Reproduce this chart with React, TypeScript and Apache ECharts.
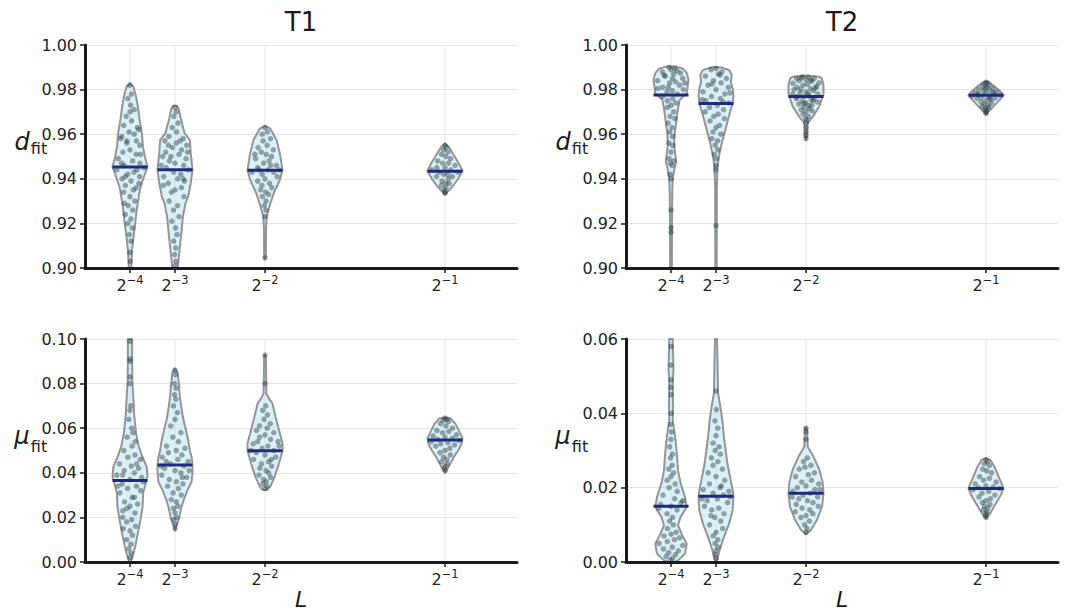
import React, { useEffect, useRef } from "react";
import * as echarts from "echarts";

const FONT = "DejaVu Sans";

// x positions (L) and their labels
const L_VALUES = [0.0625, 0.125, 0.25, 0.5];
const L_EXPONENTS = ["−4", "−3", "−2", "−1"];

// ---------- T1, d_fit ----------
const T1_D_MEDIANS = [0.9453, 0.9441, 0.9438, 0.9434];
const T1_D_PROF_A = [[0.9828,0],[0.9813,0.2],[0.9768,0.35],[0.9723,0.45],[0.9664,0.55],[0.9604,0.68],[0.9544,0.74],[0.9499,0.85],[0.9454,1.0],[0.9409,0.8],[0.9364,0.6],[0.9319,0.5],[0.926,0.38],[0.92,0.3],[0.914,0.2],[0.908,0.12],[0.902,0.08],[0.895,0.07]];
const T1_D_PROF_B = [[0.9728,0],[0.9727,0.12],[0.9711,0.22],[0.9664,0.35],[0.9604,0.55],[0.9574,0.85],[0.9514,0.9],[0.9441,1.0],[0.938,0.9],[0.932,0.75],[0.929,0.6],[0.923,0.45],[0.917,0.38],[0.911,0.3],[0.905,0.22],[0.9,0.15],[0.895,0.12]];
const T1_D_PROF_C = [[0.9637,0],[0.9625,0.3],[0.9574,0.66],[0.9514,0.85],[0.944,1.0],[0.9395,0.85],[0.9336,0.5],[0.9275,0.25],[0.923,0.1],[0.918,0.06],[0.905,0.05],[0.9043,0]];
const T1_D_PROF_D = [[0.9558,0],[0.9545,0.2],[0.95,0.55],[0.9465,0.82],[0.9435,1.0],[0.94,0.75],[0.937,0.48],[0.935,0.25],[0.9332,0]];
const T1_D_PTS_A = [[-0.2,0.982],[0.3,0.978],[-0.4,0.976],[0.1,0.973],[0.6,0.971],[-0.5,0.968],[0.2,0.966],[-0.7,0.964],[0.8,0.963],[-0.1,0.961],[0.4,0.96],[-0.8,0.959],[0.6,0.957],[-0.3,0.956],[0.9,0.955],[0.0,0.953],[-0.6,0.952],[0.5,0.951],[-0.9,0.949],[0.2,0.948],[0.7,0.947],[-0.4,0.946],[0.95,0.945],[-0.95,0.944],[0.3,0.943],[-0.2,0.942],[0.8,0.941],[-0.7,0.94],[0.1,0.939],[0.9,0.938],[-0.5,0.937],[0.4,0.935],[-0.8,0.934],[0.0,0.932],[0.7,0.93],[-0.3,0.928],[0.5,0.926],[-0.9,0.924],[0.2,0.922],[-0.5,0.92],[0.6,0.918],[-0.2,0.915],[0.4,0.912],[-0.1,0.907],[0.2,0.903],[0.9,0.962],[-0.9,0.958],[0.85,0.951],[-0.6,0.947],[0.5,0.944],[-0.4,0.941],[0.7,0.936],[-0.85,0.929],[0.0,0.97],[-0.3,0.957]];
const T1_D_PTS_B = [[0.0,0.972],[0.3,0.97],[-0.3,0.968],[0.5,0.965],[-0.4,0.963],[0.2,0.961],[-0.6,0.959],[0.7,0.958],[-0.8,0.957],[0.1,0.956],[0.9,0.955],[-0.2,0.954],[0.5,0.953],[-0.7,0.952],[0.3,0.951],[-0.9,0.95],[0.8,0.949],[-0.4,0.948],[0.0,0.947],[0.6,0.946],[-0.6,0.945],[0.9,0.944],[-0.1,0.943],[0.4,0.942],[-0.8,0.941],[0.2,0.94],[0.7,0.939],[-0.5,0.938],[-0.9,0.937],[0.5,0.936],[0.0,0.935],[-0.3,0.934],[0.8,0.932],[-0.6,0.93],[0.3,0.928],[-0.2,0.926],[0.6,0.923],[-0.5,0.921],[0.1,0.918],[0.4,0.915],[-0.3,0.912],[0.2,0.909],[-0.1,0.906],[0.3,0.903],[0.0,0.901],[0.95,0.952],[-0.95,0.946],[0.4,0.957],[-0.5,0.955],[0.6,0.94],[-0.3,0.95]];
const T1_D_PTS_C = [[0.0,0.963],[0.4,0.961],[-0.4,0.96],[0.6,0.958],[-0.2,0.957],[0.2,0.955],[-0.6,0.954],[0.7,0.953],[-0.3,0.952],[0.1,0.951],[0.5,0.95],[-0.7,0.949],[0.3,0.948],[-0.1,0.947],[0.8,0.946],[-0.5,0.945],[0.2,0.944],[-0.9,0.943],[0.6,0.943],[-0.2,0.942],[0.9,0.941],[0.0,0.94],[-0.6,0.939],[0.4,0.938],[-0.3,0.937],[0.7,0.936],[-0.5,0.935],[0.1,0.934],[0.5,0.933],[-0.4,0.932],[0.2,0.93],[-0.2,0.928],[0.3,0.926],[0.0,0.923],[0.0,0.9045],[0.95,0.944],[-0.8,0.951],[0.4,0.946],[-0.4,0.944]];
const T1_D_PTS_D = [[0.0,0.955],[0.3,0.954],[-0.3,0.953],[0.5,0.952],[-0.5,0.951],[0.1,0.95],[0.6,0.949],[-0.7,0.948],[0.3,0.947],[-0.2,0.947],[0.8,0.946],[-0.6,0.945],[0.0,0.945],[0.4,0.944],[-0.9,0.944],[0.9,0.943],[-0.4,0.943],[0.2,0.942],[-0.1,0.942],[0.6,0.941],[-0.7,0.941],[0.3,0.94],[-0.3,0.939],[0.1,0.938],[0.5,0.938],[-0.5,0.937],[0.2,0.936],[-0.2,0.935],[0.0,0.934],[0.1,0.9335]];

// ---------- T2, d_fit ----------
const T2_D_MEDIANS = [0.9776, 0.9738, 0.9769, 0.9775];
const T2_D_PROF_A = [[0.9905,0],[0.9903,0.3],[0.9893,0.7],[0.9874,0.9],[0.9844,1.0],[0.9814,0.95],[0.9784,0.9],[0.9754,0.5],[0.9715,0.4],[0.9655,0.3],[0.9596,0.2],[0.9551,0.18],[0.9506,0.25],[0.9476,0.3],[0.9447,0.2],[0.9402,0.1],[0.9327,0.07],[0.9207,0.06],[0.895,0.05]];
const T2_D_PROF_B = [[0.9901,0],[0.9899,0.3],[0.9888,0.75],[0.9865,0.9],[0.9835,0.85],[0.9805,0.95],[0.9775,1.0],[0.9738,0.95],[0.9685,0.75],[0.9625,0.55],[0.9566,0.35],[0.9506,0.18],[0.9447,0.08],[0.9357,0.05],[0.895,0.04]];
const T2_D_PROF_C = [[0.9862,0],[0.9861,0.3],[0.9858,0.75],[0.985,0.9],[0.982,1.0],[0.978,1.0],[0.9723,0.75],[0.9678,0.38],[0.9656,0.15],[0.964,0.08],[0.959,0.06],[0.958,0]];
const T2_D_PROF_D = [[0.9836,0],[0.9832,0.2],[0.981,0.55],[0.979,0.85],[0.9775,1.0],[0.976,0.85],[0.9735,0.55],[0.971,0.25],[0.9692,0]];
const T2_D_PTS_A = [[-0.3,0.99],[0.4,0.9895],[0.0,0.989],[-0.7,0.988],[0.7,0.9875],[0.2,0.987],[-0.4,0.986],[0.8,0.985],[-0.9,0.984],[0.3,0.9835],[-0.1,0.983],[0.6,0.982],[-0.6,0.981],[0.9,0.98],[0.1,0.9795],[-0.3,0.979],[0.5,0.978],[-0.8,0.977],[0.2,0.976],[-0.5,0.975],[0.7,0.974],[0.0,0.973],[-0.6,0.972],[0.5,0.97],[-0.2,0.968],[0.8,0.967],[-0.7,0.965],[0.3,0.963],[-0.4,0.961],[0.6,0.959],[-0.8,0.956],[0.7,0.955],[0.0,0.952],[-0.5,0.949],[0.6,0.948],[-0.2,0.947],[0.3,0.946],[-0.4,0.942],[0.0,0.94],[0.0,0.926],[0.0,0.918],[0.1,0.916],[0.5,0.9885],[-0.5,0.9865],[0.1,0.985],[-0.2,0.981],[0.95,0.983],[-0.95,0.9805]];
const T2_D_PTS_B = [[0.0,0.9895],[-0.5,0.989],[0.5,0.988],[0.2,0.987],[-0.8,0.986],[0.8,0.985],[-0.2,0.984],[0.4,0.983],[-0.6,0.982],[0.9,0.981],[0.0,0.98],[-0.9,0.979],[0.6,0.978],[-0.3,0.977],[0.3,0.976],[-0.7,0.975],[0.9,0.974],[0.1,0.973],[-0.5,0.972],[0.6,0.971],[-0.9,0.97],[0.2,0.969],[-0.2,0.968],[0.8,0.967],[-0.6,0.966],[0.4,0.964],[0.0,0.963],[-0.4,0.961],[0.7,0.96],[-0.7,0.958],[0.3,0.957],[-0.2,0.955],[0.5,0.953],[-0.6,0.951],[0.2,0.949],[0.0,0.946],[-0.3,0.944],[0.0,0.919],[0.3,0.9865],[-0.3,0.9825],[0.95,0.9785],[-0.95,0.9755],[0.5,0.9745]];
const T2_D_PTS_C = [[-0.3,0.9858],[0.2,0.9856],[0.6,0.985],[-0.7,0.985],[0.0,0.9845],[-0.5,0.984],[0.4,0.9838],[0.9,0.983],[-0.9,0.9828],[0.1,0.9825],[-0.2,0.982],[0.7,0.9815],[-0.6,0.981],[0.3,0.9805],[-0.8,0.98],[0.5,0.9795],[0.0,0.979],[-0.4,0.9785],[0.8,0.978],[-0.9,0.9778],[0.2,0.9772],[-0.1,0.977],[0.6,0.9765],[-0.7,0.976],[0.4,0.9755],[-0.3,0.975],[0.9,0.9745],[0.0,0.974],[-0.6,0.9735],[0.5,0.973],[-0.2,0.9722],[0.3,0.9715],[-0.5,0.971],[0.7,0.9705],[0.0,0.97],[-0.4,0.969],[0.4,0.968],[-0.1,0.967],[0.2,0.966],[0.0,0.965],[0.0,0.963],[0.0,0.961],[0.0,0.9595],[0.0,0.958],[-0.4,0.9852],[0.35,0.9842],[0.65,0.9808],[-0.35,0.9802],[0.15,0.9782],[-0.65,0.9768],[0.55,0.9752],[-0.15,0.9738],[0.25,0.9728]];
const T2_D_PTS_D = [[0.0,0.9833],[0.3,0.983],[-0.3,0.9825],[0.5,0.982],[-0.5,0.9815],[0.1,0.981],[0.7,0.9805],[-0.7,0.98],[0.3,0.9797],[-0.2,0.9793],[0.85,0.979],[-0.85,0.9786],[0.0,0.9782],[0.5,0.978],[-0.5,0.9777],[0.95,0.9775],[-0.95,0.9772],[0.2,0.977],[-0.3,0.9766],[0.7,0.9762],[-0.7,0.976],[0.4,0.9755],[0.0,0.975],[-0.5,0.9745],[0.6,0.974],[-0.2,0.9735],[0.3,0.973],[-0.6,0.9725],[0.5,0.972],[0.0,0.9715],[-0.3,0.971],[0.2,0.9705],[0.0,0.9698],[0.1,0.9693],[0.6,0.9788],[-0.6,0.9779],[0.25,0.9762],[-0.1,0.9805]];

// ---------- T1, mu_fit ----------
const T1_MU_MEDIANS = [0.0365, 0.0435, 0.0499, 0.0547];
const T1_MU_PROF_A = [[0.115,0.08],[0.1,0.12],[0.0816,0.13],[0.0726,0.2],[0.0652,0.25],[0.0577,0.35],[0.0518,0.5],[0.0473,0.7],[0.0428,0.95],[0.0383,1.0],[0.0309,0.75],[0.0249,0.72],[0.019,0.6],[0.013,0.45],[0.007,0.3],[0.0025,0.15],[0.0003,0.05],[0.0,0]];
const T1_MU_PROF_B = [[0.0866,0],[0.085,0.15],[0.08,0.22],[0.075,0.27],[0.07,0.35],[0.065,0.45],[0.06,0.6],[0.055,0.75],[0.05,0.85],[0.047,0.95],[0.0435,1.0],[0.04,1.0],[0.036,0.95],[0.032,0.7],[0.028,0.5],[0.024,0.35],[0.02,0.25],[0.017,0.12],[0.0145,0]];
const T1_MU_PROF_C = [[0.0928,0],[0.0925,0.05],[0.0756,0.08],[0.073,0.25],[0.0712,0.42],[0.0652,0.6],[0.0592,0.8],[0.0532,1.0],[0.0499,1.0],[0.0443,0.8],[0.0383,0.55],[0.0338,0.3],[0.0325,0.15],[0.0322,0]];
const T1_MU_PROF_D = [[0.0648,0],[0.0645,0.3],[0.062,0.6],[0.058,0.85],[0.0555,1.0],[0.053,0.95],[0.05,0.75],[0.047,0.5],[0.044,0.3],[0.0415,0.12],[0.0401,0]];
const T1_MU_PTS_A = [[0.0,0.099],[0.0,0.091],[0.1,0.09],[0.0,0.083],[-0.1,0.08],[0.2,0.07],[0.0,0.068],[-0.3,0.064],[0.4,0.06],[0.6,0.058],[-0.5,0.056],[0.8,0.054],[0.3,0.052],[-0.7,0.05],[0.5,0.048],[-0.2,0.047],[0.9,0.046],[-0.8,0.044],[0.1,0.043],[0.6,0.042],[-0.4,0.041],[0.3,0.04],[-0.9,0.039],[0.8,0.038],[0.0,0.037],[-0.6,0.035],[0.5,0.034],[-0.2,0.033],[0.9,0.032],[-0.9,0.031],[0.2,0.029],[-0.5,0.027],[0.7,0.026],[0.0,0.025],[-0.3,0.024],[0.5,0.022],[-0.8,0.02],[0.2,0.019],[-0.4,0.018],[0.7,0.016],[-0.9,0.015],[0.0,0.014],[0.4,0.012],[-0.6,0.01],[0.2,0.008],[-0.3,0.006],[0.3,0.004],[0.0,0.002],[0.5,0.044],[-0.5,0.039],[0.95,0.036],[-0.95,0.034],[0.4,0.029],[-0.7,0.023]];
const T1_MU_PTS_B = [[0.0,0.086],[0.2,0.084],[-0.2,0.08],[0.3,0.078],[-0.1,0.075],[0.2,0.073],[-0.3,0.07],[0.4,0.067],[0.0,0.064],[-0.5,0.061],[0.6,0.058],[-0.2,0.056],[0.3,0.054],[-0.7,0.052],[0.8,0.051],[0.1,0.05],[-0.5,0.049],[0.5,0.048],[-0.9,0.047],[0.2,0.046],[0.9,0.045],[-0.3,0.044],[0.6,0.043],[-0.7,0.042],[0.0,0.041],[0.4,0.04],[-0.9,0.039],[0.8,0.038],[-0.4,0.037],[0.1,0.036],[0.6,0.035],[-0.6,0.034],[0.3,0.033],[-0.2,0.031],[0.7,0.03],[-0.5,0.028],[0.2,0.027],[0.5,0.025],[-0.3,0.024],[0.0,0.022],[0.4,0.02],[-0.4,0.019],[0.2,0.017],[0.0,0.015],[0.95,0.041],[-0.95,0.043],[0.5,0.038],[-0.6,0.045]];
const T1_MU_PTS_C = [[0.0,0.0928],[0.0,0.08],[0.1,0.07],[-0.3,0.068],[0.3,0.066],[-0.1,0.064],[0.5,0.062],[-0.5,0.061],[0.2,0.06],[-0.7,0.059],[0.7,0.058],[0.0,0.057],[-0.4,0.056],[0.4,0.055],[0.9,0.054],[-0.8,0.053],[0.2,0.052],[-0.2,0.051],[0.6,0.05],[-0.6,0.049],[0.0,0.048],[0.8,0.047],[-0.9,0.046],[0.3,0.045],[-0.3,0.044],[0.6,0.043],[-0.5,0.042],[0.1,0.041],[0.4,0.04],[-0.7,0.039],[0.7,0.038],[-0.2,0.037],[0.2,0.036],[-0.4,0.035],[0.4,0.034],[0.0,0.033],[0.95,0.052],[-0.95,0.05],[0.5,0.046],[-0.5,0.054]];
const T1_MU_PTS_D = [[0.0,0.0645],[0.3,0.064],[-0.3,0.0635],[0.5,0.063],[-0.5,0.062],[0.1,0.061],[0.7,0.06],[-0.7,0.059],[0.3,0.0585],[-0.2,0.058],[0.85,0.057],[-0.85,0.0565],[0.0,0.056],[0.5,0.0555],[-0.5,0.055],[0.95,0.0545],[-0.95,0.054],[0.2,0.0535],[-0.3,0.053],[0.7,0.0525],[-0.7,0.052],[0.4,0.051],[0.0,0.05],[-0.5,0.049],[0.6,0.048],[-0.2,0.047],[0.3,0.046],[-0.6,0.045],[0.5,0.044],[0.0,0.043],[-0.3,0.042],[0.2,0.041]];

// ---------- T2, mu_fit ----------
const T2_MU_MEDIANS = [0.015, 0.0177, 0.0185, 0.0198];
const T2_MU_PROF_A = [[0.065,0.08],[0.06,0.1],[0.052,0.14],[0.048,0.1],[0.042,0.12],[0.0382,0.1],[0.0355,0.18],[0.0319,0.28],[0.0283,0.35],[0.0247,0.4],[0.0211,0.55],[0.0175,0.8],[0.0148,0.9],[0.0121,0.55],[0.0099,0.4],[0.0076,0.6],[0.0049,0.9],[0.0022,0.8],[0.0004,0.4],[-0.001,0.2]];
const T2_MU_PROF_B = [[0.065,0.05],[0.06,0.06],[0.0454,0.12],[0.0409,0.28],[0.0373,0.38],[0.0337,0.45],[0.0301,0.55],[0.0265,0.65],[0.0229,0.8],[0.0193,0.95],[0.0175,1.0],[0.0139,0.95],[0.0103,0.75],[0.0067,0.45],[0.0031,0.2],[0.0004,0.06],[0.0,0]];
const T2_MU_PROF_C = [[0.0362,0],[0.036,0.06],[0.031,0.1],[0.0298,0.25],[0.0286,0.4],[0.025,0.75],[0.0215,0.95],[0.0185,1.0],[0.0149,0.92],[0.0113,0.62],[0.0086,0.28],[0.0075,0]];
const T2_MU_PROF_D = [[0.0279,0],[0.0275,0.25],[0.0255,0.5],[0.023,0.72],[0.0205,0.95],[0.0198,1.0],[0.018,0.85],[0.016,0.6],[0.014,0.35],[0.0125,0.15],[0.0118,0]];
const T2_MU_PTS_A = [[0.0,0.058],[0.0,0.053],[0.1,0.049],[-0.1,0.047],[0.0,0.045],[0.1,0.04],[-0.2,0.037],[0.2,0.035],[0.0,0.033],[-0.3,0.031],[0.3,0.029],[-0.1,0.028],[0.2,0.026],[-0.4,0.025],[0.4,0.024],[0.0,0.023],[-0.5,0.022],[0.5,0.021],[-0.2,0.02],[0.6,0.019],[-0.7,0.018],[0.3,0.017],[0.8,0.016],[-0.8,0.0155],[0.0,0.015],[0.5,0.014],[-0.4,0.013],[0.2,0.012],[-0.2,0.011],[0.4,0.01],[-0.5,0.009],[0.6,0.008],[0.0,0.0075],[-0.7,0.007],[0.8,0.0065],[0.3,0.006],[-0.3,0.0055],[-0.9,0.005],[0.9,0.0045],[0.1,0.004],[-0.6,0.0035],[0.6,0.003],[-0.2,0.0025],[0.4,0.002],[-0.5,0.0015],[0.2,0.001],[-0.1,0.0005],[0.95,0.0165],[-0.95,0.0145]];
const T2_MU_PTS_B = [[0.0,0.046],[0.1,0.041],[-0.2,0.038],[0.3,0.036],[0.0,0.034],[-0.4,0.032],[0.4,0.031],[-0.1,0.03],[0.5,0.029],[-0.5,0.028],[0.2,0.027],[-0.3,0.026],[0.6,0.025],[-0.7,0.024],[0.0,0.023],[0.7,0.022],[-0.5,0.021],[0.3,0.02],[-0.9,0.0195],[0.9,0.019],[-0.2,0.0185],[0.5,0.018],[0.1,0.017],[-0.6,0.0165],[0.8,0.016],[-0.8,0.015],[0.2,0.0145],[-0.3,0.014],[0.6,0.013],[-0.1,0.012],[0.4,0.011],[-0.6,0.01],[0.7,0.009],[0.0,0.008],[-0.4,0.007],[0.3,0.006],[-0.2,0.005],[0.5,0.004],[0.0,0.003],[-0.3,0.002],[0.1,0.001],[0.95,0.0175],[-0.95,0.017],[0.4,0.0205],[-0.4,0.0125]];
const T2_MU_PTS_C = [[0.0,0.036],[0.0,0.035],[0.0,0.033],[0.2,0.028],[-0.3,0.027],[0.5,0.026],[-0.1,0.0255],[-0.6,0.025],[0.7,0.024],[0.2,0.0235],[-0.8,0.023],[0.4,0.022],[-0.3,0.0215],[0.9,0.021],[0.0,0.0205],[-0.6,0.02],[0.6,0.0195],[-0.9,0.019],[0.3,0.0185],[-0.2,0.018],[0.8,0.0175],[-0.5,0.017],[0.1,0.0165],[0.5,0.016],[-0.7,0.0155],[0.9,0.015],[-0.3,0.0145],[0.3,0.014],[-0.9,0.0135],[0.6,0.013],[0.0,0.0125],[-0.5,0.012],[0.4,0.011],[-0.2,0.01],[0.2,0.009],[0.0,0.008],[0.95,0.0195],[-0.95,0.0175]];
const T2_MU_PTS_D = [[0.0,0.0275],[0.3,0.027],[-0.3,0.0265],[0.5,0.026],[-0.4,0.025],[0.1,0.0245],[0.6,0.024],[-0.6,0.023],[0.3,0.0225],[-0.2,0.022],[0.8,0.0215],[-0.8,0.021],[0.0,0.0205],[0.5,0.0202],[-0.5,0.02],[0.9,0.0198],[-0.9,0.0195],[0.2,0.019],[-0.3,0.0185],[0.7,0.018],[-0.6,0.0175],[0.4,0.017],[0.0,0.0165],[-0.4,0.016],[0.5,0.0155],[-0.2,0.015],[0.3,0.0145],[-0.5,0.014],[0.2,0.0135],[0.0,0.013],[-0.2,0.0125],[0.1,0.012]];

// y ranges per panel
const Y_RANGES = [[0.9, 1.0], [0.9, 1.0], [0, 0.1], [0, 0.06]];

// layout (pixels)
const GRID_LEFT = [85, 626, 85, 626];
const GRID_TOP = [45, 45, 339, 339];
const GRID_W = 432;
const GRID_H = 223;
const X_MAX = 0.6;
const HALF_PX = 17.5;

const PANELS = [
  { range: Y_RANGES[0], medians: T1_D_MEDIANS, profiles: [T1_D_PROF_A, T1_D_PROF_B, T1_D_PROF_C, T1_D_PROF_D], points: [T1_D_PTS_A, T1_D_PTS_B, T1_D_PTS_C, T1_D_PTS_D] },
  { range: Y_RANGES[1], medians: T2_D_MEDIANS, profiles: [T2_D_PROF_A, T2_D_PROF_B, T2_D_PROF_C, T2_D_PROF_D], points: [T2_D_PTS_A, T2_D_PTS_B, T2_D_PTS_C, T2_D_PTS_D] },
  { range: Y_RANGES[2], medians: T1_MU_MEDIANS, profiles: [T1_MU_PROF_A, T1_MU_PROF_B, T1_MU_PROF_C, T1_MU_PROF_D], points: [T1_MU_PTS_A, T1_MU_PTS_B, T1_MU_PTS_C, T1_MU_PTS_D] },
  { range: Y_RANGES[3], medians: T2_MU_MEDIANS, profiles: [T2_MU_PROF_A, T2_MU_PROF_B, T2_MU_PROF_C, T2_MU_PROF_D], points: [T2_MU_PTS_A, T2_MU_PTS_B, T2_MU_PTS_C, T2_MU_PTS_D] },
];

function widthAt(p: number[][], y: number): number {
  if (y >= p[0][0]) return p[0][1];
  for (let k = 1; k < p.length; k++) {
    const [y0, w0] = p[k - 1];
    const [y1, w1] = p[k];
    if (y <= y0 && y >= y1) {
      const t = y0 === y1 ? 0 : (y0 - y) / (y0 - y1);
      return w0 + (w1 - w0) * t;
    }
  }
  return p[p.length - 1][1];
}

function buildOption() {
  const grid: any[] = [];
  const xAxis: any[] = [];
  const yAxis: any[] = [];
  const series: any[] = [];
  const axisColor = "#1a1a1a";
  const xHalfUnits = (HALF_PX / GRID_W) * X_MAX;

  PANELS.forEach((panel, pi) => {
    grid.push({ left: GRID_LEFT[pi], top: GRID_TOP[pi], width: GRID_W, height: GRID_H });
    xAxis.push({
      type: "value",
      gridIndex: pi,
      min: 0,
      max: X_MAX,
      z: 10,
      axisLine: { show: true, onZero: false, lineStyle: { color: axisColor, width: 3 } },
      axisTick: { show: true, customValues: L_VALUES, length: 5, lineStyle: { color: axisColor, width: 1.5 } },
      axisLabel: {
        customValues: L_VALUES,
        margin: 6,
        formatter: (v: number) => {
          const idx = L_VALUES.findIndex((q) => Math.abs(q - v) < 1e-9);
          return idx >= 0 ? `{b|2}{s|${L_EXPONENTS[idx]}}` : "";
        },
        rich: {
          b: { fontSize: 16, color: "#222", fontFamily: FONT },
          s: { fontSize: 11.5, color: "#222", fontFamily: FONT, padding: [0, 0, 10, 0] },
        },
      },
      splitLine: { show: false },
    });
    const [ymin, ymax] = panel.range;
    yAxis.push({
      type: "value",
      gridIndex: pi,
      min: ymin,
      max: ymax,
      interval: 0.02,
      axisLine: { show: true, lineStyle: { color: axisColor, width: 3 } },
      axisTick: { show: true, length: 5, lineStyle: { color: axisColor, width: 1.5 } },
      axisLabel: { formatter: (v: number) => v.toFixed(2), fontSize: 16, color: "#222", fontFamily: FONT, margin: 8 },
      splitLine: { show: true, lineStyle: { color: "#e4e4e4", width: 1 } },
    });

    const clamp = (y: number) => Math.min(Math.max(y, ymin), ymax);

    // violin bodies + vertical grid lines
    series.push({
      type: "custom",
      xAxisIndex: pi,
      yAxisIndex: pi,
      z: 2,
      silent: true,
      data: L_VALUES.map((x, i) => [x, panel.medians[i], i]),
      renderItem: (params: any, api: any) => {
        const i = api.value(2) as number;
        const x = L_VALUES[i];
        const prof = panel.profiles[i];
        const cx = api.coord([x, ymin])[0];
        const left: number[][] = [];
        const right: number[][] = [];
        prof.forEach(([y, w]) => {
          const py = api.coord([x, clamp(y)])[1];
          left.push([cx - w * HALF_PX, py]);
          right.push([cx + w * HALF_PX, py]);
        });
        const pts = left.concat(right.reverse());
        const top = api.coord([x, ymax])[1];
        const bottom = api.coord([x, ymin])[1];
        return {
          type: "group",
          children: [
            { type: "line", shape: { x1: cx, y1: top, x2: cx, y2: bottom }, style: { stroke: "#e4e4e4", lineWidth: 1 } },
            {
              type: "polygon",
              shape: { points: pts },
              style: { fill: "rgba(178,222,238,0.45)", stroke: "rgba(125,125,125,0.8)", lineWidth: 2 },
            },
          ],
        };
      },
    });

    // points
    const scatterData: number[][] = [];
    panel.points.forEach((list, i) => {
      list.forEach(([dx, y]) => {
        const w = widthAt(panel.profiles[i], y);
        scatterData.push([L_VALUES[i] + dx * w * xHalfUnits * 0.85, y]);
      });
    });
    series.push({
      type: "scatter",
      xAxisIndex: pi,
      yAxisIndex: pi,
      z: 3,
      silent: true,
      symbol: "circle",
      symbolSize: 5.5,
      itemStyle: { color: "rgba(38,56,62,0.55)" },
      data: scatterData,
    });

    // medians
    series.push({
      type: "custom",
      xAxisIndex: pi,
      yAxisIndex: pi,
      z: 4,
      silent: true,
      data: L_VALUES.map((x, i) => [x, panel.medians[i], i]),
      renderItem: (params: any, api: any) => {
        const p = api.coord([api.value(0), api.value(1)]);
        return {
          type: "line",
          shape: { x1: p[0] - HALF_PX, y1: p[1], x2: p[0] + HALF_PX, y2: p[1] },
          style: { stroke: "#1f2a7c", lineWidth: 3 },
        };
      },
    });
  });

  const txt = (text: string, x: number, y: number, size: number, extra: any = {}) => ({
    type: "text",
    x,
    y,
    style: { text, fontSize: size, fontFamily: FONT, fill: "#1a1a1a", align: "center", verticalAlign: "middle", ...extra },
  });

  const graphic = [
    txt("T1", GRID_LEFT[0] + GRID_W / 2, 22, 26),
    txt("T2", GRID_LEFT[1] + GRID_W / 2, 22, 26),
    txt("L", GRID_LEFT[2] + GRID_W / 2, 599, 22, { fontStyle: "italic" }),
    txt("L", GRID_LEFT[3] + GRID_W / 2, 599, 22, { fontStyle: "italic" }),
    txt("d", 22, 142, 24, { fontStyle: "italic" }),
    txt("fit", 39, 148, 16),
    txt("d", 563, 142, 24, { fontStyle: "italic" }),
    txt("fit", 580, 148, 16),
    txt("μ", 22, 436, 24, { fontStyle: "italic" }),
    txt("fit", 39, 446, 16),
    txt("μ", 563, 436, 24, { fontStyle: "italic" }),
    txt("fit", 580, 446, 16),
  ];

  return { animation: false, backgroundColor: "#ffffff", grid, xAxis, yAxis, series, graphic };
}

export default function App() {
  const ref = useRef<HTMLDivElement>(null);
  useEffect(() => {
    document.body.style.margin = "0";
    if (!ref.current) return;
    const chart = echarts.init(ref.current, undefined, { renderer: "svg" });
    chart.setOption(buildOption() as any);
    return () => chart.dispose();
  }, []);
  return <div ref={ref} style={{ width: 1068, height: 611 }} />;
}
